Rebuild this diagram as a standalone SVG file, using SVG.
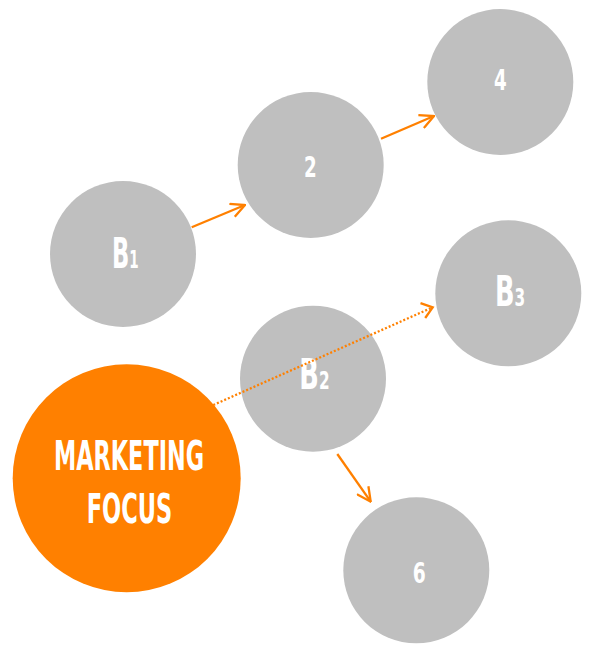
<svg xmlns="http://www.w3.org/2000/svg" width="597" height="656" viewBox="0 0 597 656">
<defs>
<style>
.g{fill:#bfbfbf}
.o{fill:#ff8000}
.t{fill:#ffffff;font-family:"DejaVu Sans Condensed","DejaVu Sans","Liberation Sans",sans-serif;font-weight:bold;font-stretch:condensed}
.b{font-size:42px}
.s{font-size:25px}
.c{fill:none;stroke:#ff8000;stroke-width:2.3}
.d{stroke-dasharray:2 2}
</style>
<marker id="ah2" viewBox="0 0 16 16" refX="15" refY="8" markerWidth="16" markerHeight="16" markerUnits="userSpaceOnUse" orient="auto">
<path d="M1,1 L15,8 L1,15" fill="none" stroke="#ff8000" stroke-width="2.3"/>
</marker>
</defs>
<g id="n-b1"><circle class="g" cx="123" cy="254" r="73"/>
<text class="t b" transform="translate(112,268) scale(0.6,1)">B<tspan class="s">1</tspan></text></g>
<g id="n-2"><circle class="g" cx="310.7" cy="165" r="73"/>
<text class="t" x="304" y="177.3" font-size="28" textLength="12.7" lengthAdjust="spacingAndGlyphs">2</text></g>
<g id="n-4"><circle class="g" cx="500.3" cy="82" r="73"/>
<text class="t" x="494" y="90" font-size="28" textLength="12.7" lengthAdjust="spacingAndGlyphs">4</text></g>
<g id="n-b3"><circle class="g" cx="508.3" cy="293.3" r="73"/>
<text class="t b" transform="translate(495,306) scale(0.68,1)">B<tspan class="s">3</tspan></text></g>
<g id="n-b2"><circle class="g" cx="313" cy="378.7" r="73"/>
<text class="t b" transform="translate(299.3,389) scale(0.68,1)">B<tspan class="s">2</tspan></text></g>
<g id="n-6"><circle class="g" cx="416.3" cy="570.3" r="73"/>
<text class="t" x="412.7" y="582.7" font-size="28" textLength="13" lengthAdjust="spacingAndGlyphs">6</text></g>
<g id="n-focus"><circle class="o" cx="126.7" cy="478.3" r="114"/>
<text class="t" x="54" y="470" font-size="40" textLength="150" lengthAdjust="spacingAndGlyphs">MARKETING</text>
<text class="t" x="86.7" y="522.5" font-size="40" textLength="85.6" lengthAdjust="spacingAndGlyphs">FOCUS</text></g>
<g id="connectors">
<line class="c" x1="191.7" y1="227.3" x2="245" y2="205" marker-end="url(#ah2)"/>
<line class="c" x1="381" y1="138.7" x2="434" y2="116" marker-end="url(#ah2)"/>
<line class="c" x1="337.3" y1="454" x2="370.7" y2="501.7" marker-end="url(#ah2)"/>
<line class="c d" x1="213.3" y1="405" x2="432.7" y2="307.3"/>
<path class="c" d="M420.5,303.2 L432.7,307.3 L425.2,318"/>
</g>
</svg>
